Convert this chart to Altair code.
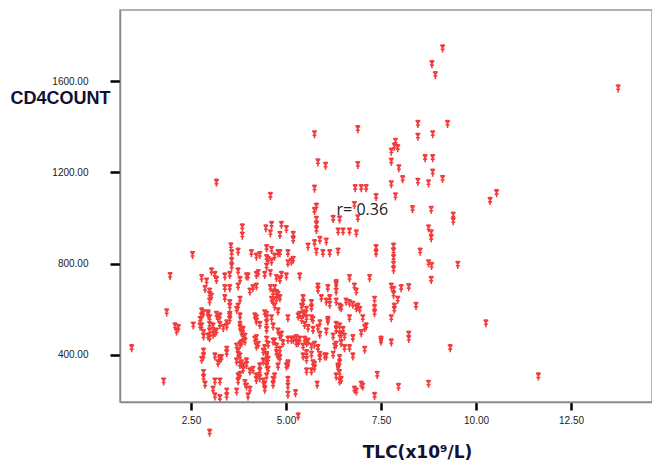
import altair as alt
import pandas as pd

# TLC (x10^9/L) and CD4 count
tlc = [
    3.17, 4.59, 5.75, 6.89, 5.84, 6.04, 6.89, 5.75, 6.82, 6.98, 7.11, 7.37, 5.80, 5.75, 6.80, 6.89,
    9.12, 8.84, 8.93, 13.74, 8.47, 9.25, 8.47, 8.86, 7.88, 7.85, 7.94, 7.77, 7.77, 8.66, 8.86, 7.97,
    8.86, 8.07, 8.47, 8.75, 9.12, 7.77, 10.37, 10.54, 7.88, 8.33, 8.82, 9.40, 9.40,
    5.80, 5.80, 5.80, 6.24, 6.41, 6.37, 6.50, 6.67, 6.85, 3.85, 3.85, 4.47, 4.62, 4.88, 5.01, 5.19,
    5.19, 4.59, 4.84, 5.58, 5.75, 5.89, 6.06, 5.80, 5.97, 6.15, 6.37, 7.37, 7.37, 2.54, 3.55, 3.57,
    3.57, 3.57, 3.74, 4.09, 4.22, 4.31, 4.49, 4.62, 4.70, 4.84, 4.49, 4.62, 5.05, 5.19, 4.53, 4.79,
    5.05, 5.14, 8.75, 8.82, 8.82, 7.83, 7.83, 7.83, 7.83, 7.83, 8.53, 8.75, 8.83, 9.52,
    8.82, 1.95, 2.78, 2.91, 3.04, 3.13, 3.17, 3.39, 3.52, 4.00, 4.22, 4.44, 4.75, 4.88, 5.01, 5.36,
    3.79, 3.74, 3.96, 4.27, 4.49, 4.59, 4.84, 6.67, 7.20, 6.32,
    7.77, 7.83, 7.83, 8.03, 8.23, 7.94, 7.85, 7.85, 8.42,
    4.13, 4.22, 3.74, 4.70, 4.66, 4.75, 5.84, 5.84, 6.10, 6.32, 6.32, 6.80, 6.85, 2.99, 3.04, 2.99,
    2.87, 3.39, 3.39, 3.52, 3.79, 3.74, 3.70, 4.66, 4.75, 4.70, 5.45, 5.45, 5.41, 5.54, 5.67, 5.67,
    5.93, 6.15, 6.15, 6.41, 6.67, 6.89, 6.94, 7.33, 7.33, 2.99, 3.52, 4.05, 4.59, 4.79, 4.62, 4.84,
    6.06, 6.32, 6.58, 6.76, 3.52, 6.45, 6.85,
    7.77, 10.26,
    2.78, 2.78, 2.74, 2.95, 2.99, 3.17, 3.26, 1.86, 2.08, 2.17, 2.12, 2.56, 2.78, 2.99, 3.08, 2.99,
    3.13, 3.26, 3.44, 3.52, 3.52, 3.79, 3.79, 3.87, 4.18, 4.22, 4.44, 4.49, 4.49, 4.62, 4.66, 4.79,
    5.36, 5.41, 5.49, 5.54, 5.67, 5.49, 5.58, 5.71, 5.89, 6.10, 6.32, 6.41, 6.50, 6.67, 7.02, 7.33,
    7.11, 2.83, 3.17, 3.35, 4.49, 4.49, 4.79, 5.05, 5.32, 5.45, 5.71, 6.10, 5.84, 6.32, 7.07, 2.83,
    2.95, 3.21, 3.44, 3.52, 2.74, 3.79, 3.83, 4.22, 4.31, 6.06, 6.98,
    8.23, 8.23, 7.50, 7.77, 9.32,
    0.94, 2.83, 2.95, 3.08, 2.99, 3.92, 3.83, 4.88, 5.89, 6.45, 6.54, 4.84, 3.87, 3.92, 4.22, 6.24,
    6.41, 6.76,
    2.83, 3.44, 3.44, 3.70, 3.74, 4.18, 4.22, 4.40, 4.66, 4.75, 4.84, 4.92, 5.05, 5.19, 5.27, 5.36,
    5.45, 5.54, 5.67, 5.54, 6.24, 6.28, 6.45, 6.67, 7.07, 4.70, 5.14, 5.27, 5.32, 5.49, 5.58, 5.75,
    5.84, 4.49, 4.53, 4.75, 6.32, 6.54, 7.50, 3.79, 4.27, 4.44, 4.49, 5.89, 5.67, 3.74,
    2.83, 2.78, 3.13, 3.26, 3.21, 3.79, 3.83, 3.87, 3.96, 4.49, 4.40, 4.49, 4.53, 4.31, 4.79, 5.05,
    5.01, 5.45, 5.54, 5.71, 5.75, 5.67, 5.89, 6.06, 6.41, 6.37, 6.32, 2.83, 3.74, 4.49, 7.40, 6.76,
    6.37, 6.41, 4.53, 4.84, 4.79, 4.70, 5.05, 5.75, 5.54, 6.02, 6.41, 11.64, 3.70, 3.79, 4.49, 4.31,
    3.26, 3.30, 3.87, 3.79, 3.96, 4.05, 4.13, 4.22,
    6.41, 2.83, 2.87, 3.13, 3.26, 3.08, 3.13, 3.26, 3.44, 3.44, 3.74, 3.70, 3.92, 3.96, 4.00, 4.22,
    4.40, 4.66, 4.66, 5.05, 5.05, 5.05, 5.25, 5.32, 2.99, 5.82, 6.85, 6.98, 7.33, 1.78, 6.45, 6.80,
    7.02, 4.31, 4.44, 4.44, 4.05, 7.96, 8.75,
]

cd4 = [
    1154, 1096, 1366, 1388, 1243, 1228, 1231, 1128, 1130, 1130, 1130, 1091, 1049, 1030, 1056, 998,
    1742, 1673, 1625, 1567, 1411, 1411, 1355, 1366, 1333, 1312, 1305, 1290, 1246, 1261, 1261, 1217,
    1198, 1169, 1158, 1151, 1170, 1147, 1074, 1108, 1094, 1038, 1035, 1010, 985,
    991, 969, 947, 995, 993, 940, 940, 940, 932, 958, 922, 954, 969, 969, 950, 925,
    903, 932, 925, 874, 889, 903, 896, 852, 845, 845, 852, 867, 845, 837, 875, 845,
    810, 786, 852, 845, 830, 837, 867, 859, 830, 845, 823, 808, 801, 816, 816, 845,
    845, 808, 954, 932, 911, 874, 852, 823, 794, 772, 852, 801, 789, 794,
    728, 745, 736, 721, 765, 750, 728, 743, 750, 743, 750, 750, 736, 750, 743, 743,
    728, 765, 743, 758, 786, 758, 728, 736, 736, 714,
    699, 684, 663, 692, 696, 641, 611, 597, 614,
    692, 699, 699, 692, 670, 670, 699, 684, 692, 707, 677, 699, 677, 677, 655, 633,
    688, 692, 648, 692, 641, 611, 597, 633, 641, 611, 648, 626, 611, 597, 626, 604,
    648, 648, 619, 611, 626, 611, 597, 641, 604, 663, 626, 677, 692, 663, 641, 648,
    633, 633, 633, 619, 611, 604, 604,
    560, 538,
    590, 568, 553, 582, 560, 575, 568, 586, 524, 517, 502, 528, 524, 531, 524, 502,
    495, 531, 538, 575, 553, 568, 531, 509, 568, 546, 582, 560, 538, 560, 524, 502,
    575, 553, 582, 560, 560, 531, 517, 509, 538, 546, 531, 524, 509, 560, 560, 582,
    524, 495, 502, 517, 575, 509, 590, 560, 568, 575, 553, 553, 517, 509, 517, 582,
    575, 560, 524, 568, 524, 517, 495, 560, 531, 502, 495,
    488, 469, 458, 454, 429,
    429, 480, 480, 488, 473, 480, 451, 488, 488, 488, 480, 480, 473, 458, 473, 480,
    488, 473,
    414, 422, 407, 436, 414, 466, 436, 414, 458, 436, 422, 451, 466, 466, 451, 466,
    436, 451, 436, 407, 400, 436, 451, 429, 422, 458, 466, 473, 451, 466, 458, 444,
    429, 466, 444, 407, 444, 429, 466, 444, 444, 429, 400, 400, 400, 400,
    393, 378, 393, 385, 363, 393, 363, 349, 371, 393, 371, 349, 334, 349, 393, 363,
    349, 393, 378, 363, 341, 327, 385, 393, 385, 349, 305, 320, 305, 305, 312, 393,
    341, 320, 378, 385, 349, 305, 356, 356, 327, 393, 363, 305, 371, 356, 363, 327,
    378, 385, 334, 312, 356, 327, 334, 305,
    283, 298, 269, 283, 283, 247, 218, 210, 239, 218, 283, 239, 276, 261, 218, 290,
    283, 290, 269, 290, 261, 225, 232, 130, 59, 269, 239, 269, 220, 283, 290, 247,
    261, 298, 269, 247, 247, 259, 273,
]

x_ticks = [2.5, 5.0, 7.5, 10.0, 12.5]
y_ticks = [400, 800, 1200, 1600]

ann_text = ["r= 0.36"]
ann_x = [6.33]
ann_y = [1037]

df = pd.DataFrame({"TLC": tlc, "CD4": cd4})
ann = pd.DataFrame({"x": ann_x, "y": ann_y, "t": ann_text})

asterisk = "M-0.55,-1L0,-0.2L0.55,-1M0,-0.2L0,1M-0.5,0.2L0.5,0.2M-0.3,-0.9L0.3,-0.9"

xscale = alt.Scale(domain=[0.632, 14.63], nice=False, zero=False)
yscale = alt.Scale(domain=[194, 1911], nice=False, zero=False)

points = alt.Chart(df).mark_point(
    shape=asterisk, filled=False, stroke="#f23a3a", strokeWidth=1.6, size=60, opacity=1
).encode(
    x=alt.X("TLC:Q", scale=xscale, axis=alt.Axis(
        values=x_ticks, format=".2f", title="TLC(x10⁹/L)",
        grid=False, domainColor="#888888", domainWidth=1.5,
        tickColor="#000000", tickWidth=2.5, tickSize=8,
        labelFont="Liberation Sans", labelFontSize=10, labelColor="#222222", labelPadding=5,
        titleFont="DejaVu Sans", titleFontSize=17, titleFontWeight="bold", titleColor="#111133",
        titleX=297, titleY=50, titleAlign="center", titleBaseline="middle")),
    y=alt.Y("CD4:Q", scale=yscale, axis=alt.Axis(
        values=y_ticks, format=".2f", title="CD4COUNT",
        grid=False, domainColor="#888888", domainWidth=1.5,
        tickColor="#000000", tickWidth=2.5, tickSize=10,
        labelFont="Liberation Sans", labelFontSize=10, labelColor="#222222", labelPadding=22,
        titleFont="Liberation Sans", titleFontSize=18, titleFontWeight="bold", titleColor="#111133",
        titleAngle=0, titleX=-60, titleY=88, titleAlign="center", titleBaseline="middle")),
)

text = alt.Chart(ann).mark_text(
    align="left", baseline="middle", font="Open Sans", fontSize=16, color="#222222"
).encode(x=alt.X("x:Q", scale=xscale), y=alt.Y("y:Q", scale=yscale), text="t:N")

chart = alt.layer(points, text).properties(
    width=532, height=392,
    autosize=alt.AutoSizeParams(type="none"),
    padding={"left": 112, "top": 2, "right": 0, "bottom": 60},
    background="white",
).configure_view(stroke="#999999", strokeWidth=1.5)

chart.save("out.html", embed_options={"renderer": "svg", "actions": False})
